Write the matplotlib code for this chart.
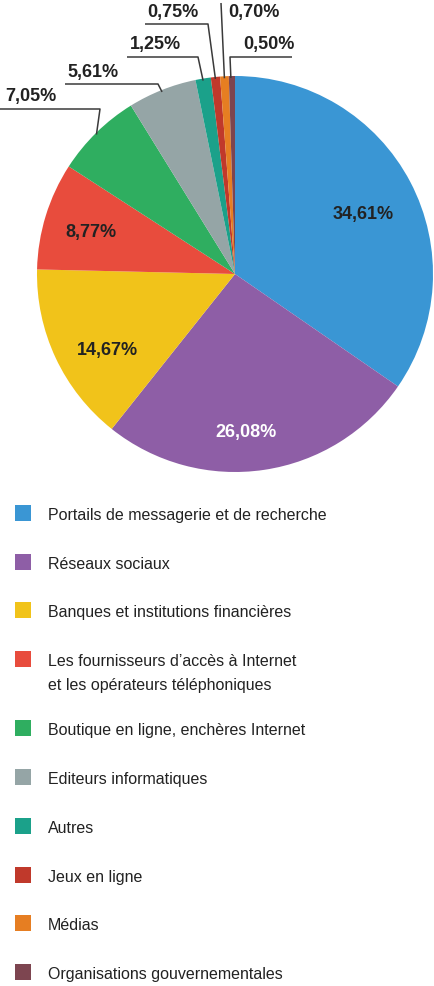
import numpy as np
import matplotlib.pyplot as plt
from matplotlib.patches import Rectangle

plt.rcParams['font.family'] = ['Liberation Sans', 'DejaVu Sans']

# data
categories = [
    'Portails de messagerie et de recherche',
    'Réseaux sociaux',
    'Banques et institutions financières',
    "Les fournisseurs d\u2019accès à Internet\net les opérateurs téléphoniques",
    'Boutique en ligne, enchères Internet',
    'Editeurs informatiques',
    'Autres',
    'Jeux en ligne',
    'Médias',
    'Organisations gouvernementales',
]
shares = [34.61, 26.08, 14.67, 8.77, 7.05, 5.61, 1.25, 0.75, 0.70, 0.50]
labels = ['34,61%', '26,08%', '14,67%', '8,77%', '7,05%', '5,61%',
          '1,25%', '0,75%', '0,70%', '0,50%']
colors = ['#3a96d4', '#8e5ea6', '#f1c31a', '#e84c3d', '#2fae60',
          '#95a5a6', '#1ba18a', '#c0392b', '#e67e22', '#7d4550']

# layout (pixels, y down)
W, H = 434, 987
cx, cy, r = 235, 275, 198
txt_color = '#222222'
line_color = '#3a3a3a'
# labels inside the big slices: (x, y, colour)
inside = {
    0: (363, 215, txt_color),
    1: (246, 433, 'white'),
    2: (107, 351, txt_color),
    3: (91, 233, txt_color),
}
# leader line for small slices: (text x, text y, knee points of the line)
leaders = {
    4: (5, 97, [(0, 110), (100, 110)]),
    5: (67, 72, [(65, 85), (158, 85)]),
    6: (130, 45, [(127, 58), (198, 58)]),
    7: (147, 13, [(145, 25), (208, 25)]),
    8: (228, 13, [(221, 4)]),
    9: (243, 45, [(292, 58), (230, 58)]),
}
legend_rows = [514, 563, 611, 660, 729, 778, 827, 876, 924, 973]

fig = plt.figure(figsize=(W / 100, H / 100), dpi=100)
ax = fig.add_axes([0, 0, 1, 1])

wedges, _ = ax.pie(shares, colors=colors, startangle=-90, counterclock=True,
                   center=(cx, cy), radius=r, frame=True)
ax.set_xlim(0, W)
ax.set_ylim(H, 0)
ax.set_aspect('equal')
ax.axis('off')

for i, w in enumerate(wedges):
    mid = np.deg2rad((w.theta1 + w.theta2) / 2)
    ex, ey = cx + r * np.cos(mid), cy + r * np.sin(mid)
    if i in leaders:
        tx, ty, pts = leaders[i]
        if i == 9:
            xs = [pts[0][0], pts[1][0], ex - 1]
            ys = [pts[0][1], pts[1][1], ey + 2]
        else:
            xs = [p[0] for p in pts] + [ex]
            ys = [p[1] for p in pts] + [ey + 2]
        ax.plot(xs, ys, color=line_color, lw=1.1, solid_capstyle='butt')
        ax.text(tx, ty, labels[i], ha='left', va='center', fontsize=13,
                fontweight='bold', color=txt_color)
    else:
        lx, ly, c = inside[i]
        ax.text(lx, ly, labels[i], ha='center', va='center', fontsize=13,
                fontweight='bold', color=c)

# legend
for cat, col, y in zip(categories, colors, legend_rows):
    ax.add_patch(Rectangle((15, y - 8), 16, 16, color=col, lw=0))
    for k, line in enumerate(cat.split('\n')):
        ax.text(48, y + k * 24, line, ha='left', va='center_baseline',
                fontsize=11.5, color=txt_color)

fig.savefig('out.png', dpi=100)
